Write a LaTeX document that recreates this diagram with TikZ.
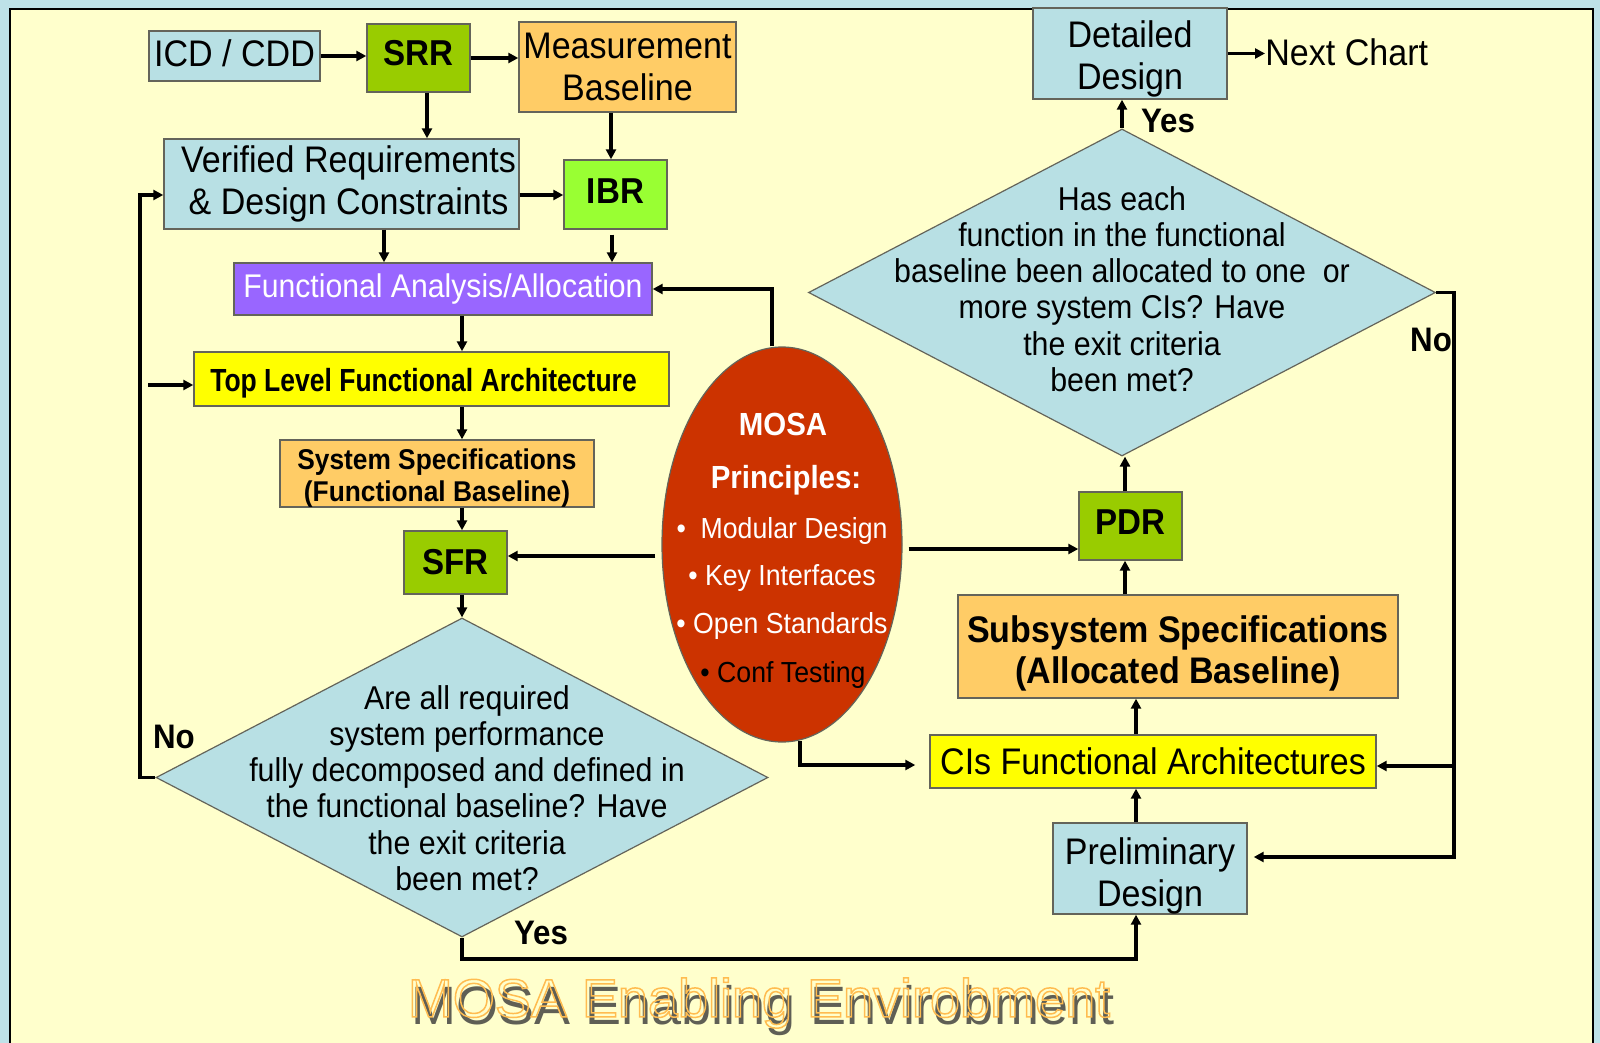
\documentclass[tikz,border=0pt]{standalone}
\usepackage{fontspec}
\usepackage{graphicx}
\setmainfont{Liberation Sans}[FakeStretch=0.92]
\newfontfamily\titlefont{Liberation Sans}
\usetikzlibrary{arrows.meta,shapes.geometric}

\definecolor{framebg}{RGB}{190,226,232}
\definecolor{pagebg}{RGB}{255,255,204}
\definecolor{boxblue}{RGB}{184,224,228}
\definecolor{revgreen}{RGB}{153,204,0}
\definecolor{ibrgreen}{RGB}{153,255,51}
\definecolor{specorange}{RGB}{255,204,102}
\definecolor{anapurple}{RGB}{153,102,255}
\definecolor{archyellow}{RGB}{255,255,0}
\definecolor{mosared}{RGB}{204,51,0}
\definecolor{titleorange}{RGB}{255,188,80}
\definecolor{titleshadow}{RGB}{95,95,85}
\definecolor{edgegray}{RGB}{100,100,90}

% stroked (hollow) glyphs for the title
\newcommand\hollowtext[1]{\special{pdf:literal direct 1 Tr 0.75 w}#1\special{pdf:literal direct 0 Tr}}
% struts that move a label down (extra height) or up (extra depth)
\newcommand\downby[1]{\rule{0pt}{#1}}
\newcommand\upby[1]{\rule[-#1]{0pt}{#1}}

\begin{document}
\begin{tikzpicture}[x=0.5pt,y=-0.5pt,
  box/.style={draw=edgegray, line width=0.7pt, inner sep=0pt, align=center,
              font=\fontsize{18.5}{21}\selectfont},
  bold18/.style={font=\bfseries\fontsize{18}{21}\selectfont},
  decision/.style={diamond, draw=edgegray, line width=0.6pt, fill=boxblue, inner sep=0pt},
  qtext/.style={inner sep=0pt, align=center, font=\fontsize{16.5}{18.15}\selectfont},
  lbl/.style={inner sep=0pt, font=\fontsize{18.5}{21}\selectfont},
  yn/.style={inner sep=0pt, font=\bfseries\fontsize{17}{20}\selectfont},
  mosahead/.style={inner sep=0pt, anchor=base, text=white, font=\bfseries\fontsize{16}{19}\selectfont},
  mosaitem/.style={inner sep=0pt, anchor=base, text=white, font=\fontsize{14.5}{17}\selectfont},
  arr/.style={line width=1.6pt, -{Triangle[length=5pt,width=5pt]}},
  titletext/.style={inner sep=0pt, font=\titlefont\fontsize{27}{30}\selectfont}
]
\useasboundingbox (0,0) rectangle (1600,1043);

% frame and page
\fill[framebg] (0,0) rectangle (1600,1043);
\draw[fill=pagebg, line width=1.1pt] (10,9) rectangle (1593,1070);

% left column of the flow
\node[box, fill=boxblue, minimum width=85.5pt, minimum height=25pt] (icd) at (234.5,56) {\upby{3pt}ICD / CDD};
\node[box, fill=revgreen, minimum width=51.5pt, minimum height=34pt, bold18] (srr) at (418.5,58) {\upby{5pt}SRR};
\node[box, fill=specorange, minimum width=108.5pt, minimum height=45pt] (meas) at (627.5,67) {Measurement\\Baseline};
\node[box, fill=boxblue, minimum width=177.5pt, minimum height=45pt] (ver) at (341.5,184)
  {\hspace{7pt}Verified Requirements\\\hspace{7pt}\& Design Constraints};
\node[box, fill=ibrgreen, minimum width=51.5pt, minimum height=34.5pt, bold18] (ibr) at (615.5,194.5) {\upby{3pt}IBR};
\node[box, fill=anapurple, text=white, minimum width=209pt, minimum height=26pt,
      font=\fontsize{16.4}{19}\selectfont] (faa) at (443,289) {Functional Analysis/Allocation};
\node[box, fill=archyellow, minimum width=237.5pt, minimum height=27pt,
      font=\bfseries\fontsize{16}{19}\selectfont] (top) at (431.5,379)
  {\downby{15.7pt}\scalebox{0.9}[1]{Top Level Functional Architecture}\hspace{8pt}};
\node[box, fill=specorange, minimum width=157pt, minimum height=32.5pt,
      font=\bfseries\fontsize{14.3}{16}\selectfont] (sys) at (437,473.5)
  {\downby{14.5pt}System Specifications\\(Functional Baseline)};
\node[box, fill=revgreen, minimum width=51.5pt, minimum height=31.5pt, bold18] (sfr) at (455.5,562.5) {SFR};
\node[decision, minimum width=306pt, minimum height=159.5pt] (d1) at (462,777.5) {};
\node[qtext] (q1) at (467,788) {Are all required\\system performance\\fully decomposed and defined in\\the functional baseline? Have\\the exit criteria\\been met?};

% MOSA principles
\node[ellipse, draw=edgegray, line width=0.6pt, fill=mosared, minimum width=120pt, minimum height=197.5pt, inner sep=0pt] (ell) at (782,544.5) {};
\node[mosahead] (mosa1) at (783,435) {MOSA};
\node[mosahead] (mosa2) at (786,488) {Principles:};
\node[mosaitem] (mosa3) at (782,538) {•\ \ Modular Design};
\node[mosaitem] (mosa4) at (782,585) {• Key Interfaces};
\node[mosaitem] (mosa5) at (782,633) {• Open Standards};
\node[mosaitem, text=black] (mosa6) at (783,682) {• Conf Testing};

% right column of the flow
\node[box, fill=boxblue, minimum width=97pt, minimum height=45.5pt] (det) at (1130,53.5) {\downby{18.5pt}Detailed\\Design};
\node[lbl, anchor=west] (next) at (1265,52) {Next Chart};
\node[decision, minimum width=313.5pt, minimum height=163.5pt] (d2) at (1122,292.5) {};
\node[qtext] (q2) at (1122,289) {Has each\\function in the functional\\baseline been allocated to one\ \ or\\more system CIs? Have\\the exit criteria\\been met?};
\node[box, fill=revgreen, minimum width=51.5pt, minimum height=34pt, bold18] (pdr) at (1130.5,526) {\upby{4pt}PDR};
\node[box, fill=specorange, minimum width=220pt, minimum height=51.5pt,
      font=\bfseries\fontsize{18.5}{20.5}\selectfont] (sub) at (1178,646.5)
  {\downby{20.6pt}Subsystem Specifications\\(Allocated Baseline)};
\node[box, fill=archyellow, minimum width=223pt, minimum height=26.5pt] (cis) at (1153,761.5) {CIs Functional Architectures};
\node[box, fill=boxblue, minimum width=97pt, minimum height=45.5pt] (pre) at (1150,868.5) {\downby{20.5pt}Preliminary\\Design};

% decision labels
\node[yn] (no1) at (174,737) {No};
\node[yn] (yes1) at (541,933) {Yes};
\node[yn] (yes2) at (1168,121) {Yes};
\node[yn] (no2) at (1431,340) {No};

% title with drop shadow
\node[titletext, text=titleshadow] (tshadow) at (763,1011) {MOSA Enabling Envirobment};
\node[titletext, text=titleorange] (title) at (759,1003) {\hollowtext{MOSA Enabling Envirobment}};

% helper points
\coordinate (srrout) at ([xshift=4.25pt]srr.south);
\coordinate (measout) at ([xshift=-8.25pt]meas.south);
\coordinate (verout) at ([yshift=-5.5pt]ver.east);
\coordinate (verdown) at ([xshift=21.25pt]ver.south);
\coordinate (ibrout) at ([xshift=-1.75pt,yshift=-2.5pt]ibr.south);
\coordinate (elltop) at ([xshift=-5pt]ell.north);
\coordinate (spine) at (462,0);
\coordinate (ellleft) at ([xshift=-3pt,yshift=-5.75pt]ell.west);
\coordinate (ellright) at ([xshift=3pt,yshift=-2.25pt]ell.east);
\coordinate (ellbot) at ([xshift=9pt,yshift=1pt]ell.south);
\coordinate (cisin) at ([xshift=-7pt,yshift=-1.75pt]cis.west);
\coordinate (lrail) at (140,0);
\coordinate (verin) at ([yshift=-5.5pt]ver.west);
\coordinate (topfeed) at (148,385);
\coordinate (yesbus) at (462,959);
\coordinate (prebot) at ([xshift=-7pt]pre.south);
\coordinate (pretop) at ([xshift=-7pt]pre.north);
\coordinate (pdrcol) at (1125,0);
\coordinate (rrail) at (1454,0);
\coordinate (prein) at ([xshift=3pt,yshift=5.75pt]pre.east);
\coordinate (cisright) at ([yshift=-2.25pt]cis.east);

% connectors
\draw[arr] (icd.east) -- (icd.east -| srr.west);
\draw[arr] (srr.east) -- (srr.east -| meas.west);
\draw[arr] (srrout) -- (srrout |- ver.north);
\draw[arr] (measout) -- (measout |- ibr.north);
\draw[arr] (verout) -- (verout -| ibr.west);
\draw[arr] (verdown) -- (verdown |- faa.north);
\draw[arr] (ibrout) -- (ibrout |- faa.north);
\draw[arr] (elltop) |- (faa.east);
\draw[arr] (faa.south -| spine) -- (top.north -| spine);
\draw[arr] (top.south -| spine) -- (sys.north -| spine);
\draw[arr] (sys.south -| spine) -- (sfr.north -| spine);
\draw[arr] (sfr.south -| spine) -- (d1.north);
\draw[arr] (ellleft) -- (ellleft -| sfr.east);
\draw[arr] (ellright) -- (ellright -| pdr.west);
\draw[arr] (ellbot) |- (cisin);
\draw[arr] (d1.west) -- (d1.west -| lrail) -- (lrail |- verin) -- (verin);
\draw[arr] (topfeed) -- (topfeed -| top.west);
\draw[arr] (d1.south) -- (yesbus) -| (prebot);
\draw[arr] (pretop) -- (pretop |- cis.south);
\draw[arr] (cis.north -| pretop) -- (sub.south -| pretop);
\draw[arr] (sub.north -| pdrcol) -- (pdr.south -| pdrcol);
\draw[arr] (pdr.north -| pdrcol) -- (d2.south -| pdrcol);
\draw[arr] (d2.north) -- (d2.north |- det.south);
\draw[arr] (det.east) -- (det.east -| next.west);
\draw[arr] (d2.east) -- (d2.east -| rrail) |- (prein);
\draw[arr] (cisright -| rrail) -- (cisright);
\end{tikzpicture}
\end{document}
